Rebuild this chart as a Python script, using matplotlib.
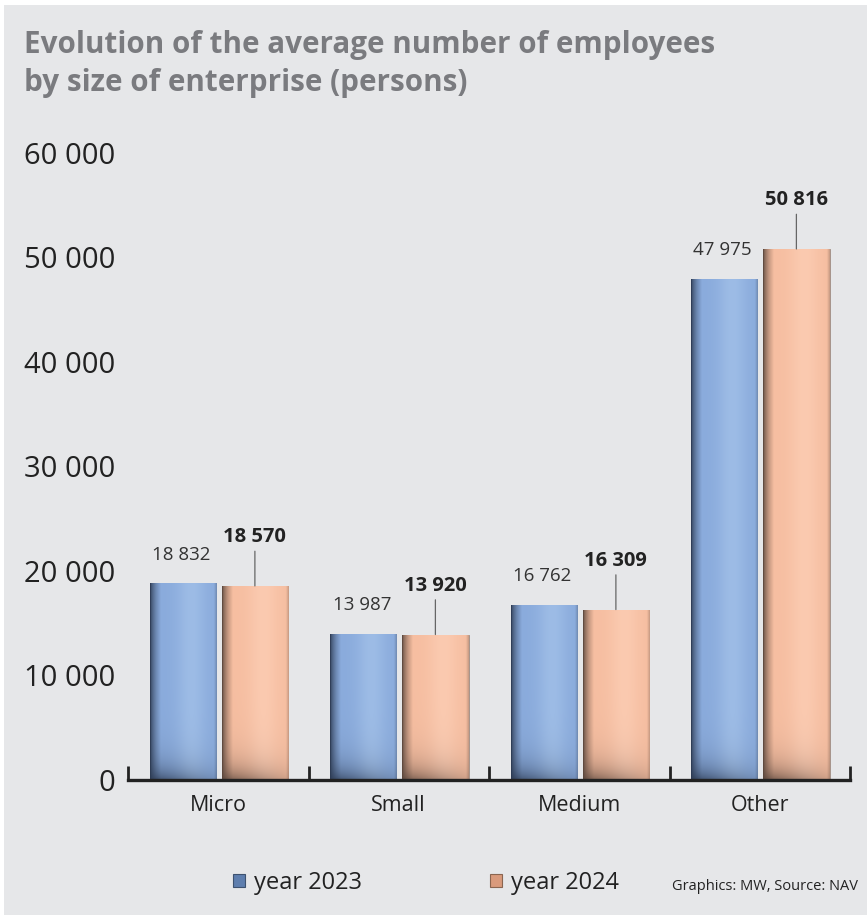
import numpy as np
import matplotlib
matplotlib.use("Agg")
import matplotlib.pyplot as plt
from matplotlib.patches import Rectangle, Patch
from matplotlib.colors import to_rgb

# data
categories = ["Micro", "Small", "Medium", "Other"]
years = ["year 2023", "year 2024"]
values_2023 = [18832, 13987, 16762, 47975]
values_2024 = [18570, 13920, 16309, 50816]
y_ticks = [0, 10000, 20000, 30000, 40000, 50000, 60000]

BG = "#e6e7e9"
TXT = "#222222"
BLUE = dict(base="#8aabdc", dark="#2c3a52", light="#9dbce6")
ORANGE = dict(base="#f6bea1", dark="#5a463c", light="#fbcab0")

plt.rcParams["font.family"] = ["Open Sans", "DejaVu Sans"]


def fmt(v):
    return f"{v:,}".replace(",", " ")


def shade_bar(ax, bar, pal):
    """paint a soft 3D-ish gradient inside a bar, clipped to it"""
    x0, w, h = bar.get_x(), bar.get_width(), bar.get_height()
    base, dark, light = (np.array(to_rgb(pal[k])) for k in ("base", "dark", "light"))
    nx, ny = 80, 300
    u = np.linspace(0, 1, nx)[None, :, None]
    yy = np.linspace(0, h, ny)[:, None, None]
    left = np.clip(u / 0.16, 0, 1) ** 0.6
    col = dark + (base - dark) * left
    col = col + (light - base) * np.exp(-((u - 0.62) / 0.22) ** 2)
    col = col * (1 - 0.18 * np.clip((u - 0.96) / 0.04, 0, 1))
    b = np.exp(-yy / 1400.0) * (0.6 * (1 - u) + 0.25)
    col = col * (1 - b) + dark * b
    col = np.clip(np.broadcast_to(col, (ny, nx, 3)), 0, 1)
    im = ax.imshow(col, extent=(x0, x0 + w, 0, h), origin="lower",
                   aspect="auto", interpolation="bilinear", zorder=2.5)
    im.set_clip_path(bar)


fig = plt.figure(figsize=(8.67, 9.15), dpi=100, facecolor="white")
fig.patches.append(Rectangle((4 / 867, 0), 1, 1 - 5 / 915, transform=fig.transFigure,
                             facecolor=BG, edgecolor="none", zorder=-10))

ax = fig.add_axes([128 / 867, 135 / 915, 722 / 867, 627 / 915])
ax.set_facecolor("none")

x = np.arange(len(categories))
w = 0.367
bars23 = ax.bar(x - 0.197, values_2023, w, color=BLUE["base"], edgecolor="#7d8796",
                linewidth=0.6, zorder=2)
bars24 = ax.bar(x + 0.203, values_2024, w, color=ORANGE["base"], edgecolor="#9a8a82",
                linewidth=0.6, zorder=2)
for b in bars23:
    shade_bar(ax, b, BLUE)
for b in bars24:
    shade_bar(ax, b, ORANGE)

for b, v in zip(bars23, values_2023):
    ax.annotate(fmt(v), xy=(b.get_x() + b.get_width() / 2, v), xytext=(-1, 14),
                textcoords="offset points", ha="center", va="bottom",
                fontsize=13.5, color="#333333", zorder=4)
for b, v in zip(bars24, values_2024):
    ax.annotate(fmt(v), xy=(b.get_x() + b.get_width() / 2, v), xytext=(0, 28),
                textcoords="offset points", ha="center", va="bottom",
                fontsize=14.5, fontweight="bold", color=TXT, zorder=4,
                arrowprops=dict(arrowstyle="-", color="#666666", lw=0.9,
                                shrinkA=1, shrinkB=0))

ax.set_xlim(-0.5, 3.5)
ax.set_ylim(0, 60000)
ax.set_yticks(y_ticks)
ax.set_yticklabels([fmt(t) for t in y_ticks])
ax.set_xticks(x)
ax.set_xticklabels(categories)
ax.set_xticks(np.arange(-0.5, 4.0, 1.0), minor=True)
ax.tick_params(axis="y", length=0, pad=9, labelsize=21, labelcolor=TXT)
ax.tick_params(axis="x", which="major", length=0, pad=11, labelsize=15.5, labelcolor=TXT)
ax.tick_params(axis="x", which="minor", direction="in", length=10, width=2, color=TXT)
for s in ("left", "right", "top"):
    ax.spines[s].set_visible(False)
ax.spines["bottom"].set_linewidth(2.4)
ax.spines["bottom"].set_color(TXT)
ax.spines["bottom"].set_zorder(5)

fig.text(24 / 867, 1 - 30 / 915,
         "Evolution of the average number of employees\nby size of enterprise (persons)",
         ha="left", va="top", fontsize=21.3, fontweight="bold", color="#7a7b7f",
         linespacing=1.35)

handles = [Patch(facecolor="#5e7eae", edgecolor="#3d5270", linewidth=0.8),
           Patch(facecolor="#d99a7c", edgecolor="#8a6550", linewidth=0.8)]
fig.legend(handles, years, loc="center left", bbox_to_anchor=(221 / 867, 1 - 883 / 915),
           ncol=2, frameon=False, fontsize=17, handlelength=0.5, handleheight=0.5,
           handletextpad=0.4, columnspacing=5.42, borderpad=0, labelcolor=TXT)

fig.text(672 / 867, 1 - 887 / 915, "Graphics: MW, Source: NAV", ha="left", va="center",
         fontsize=10.5, color=TXT)

fig.savefig("out.png", dpi=100, facecolor="white")
